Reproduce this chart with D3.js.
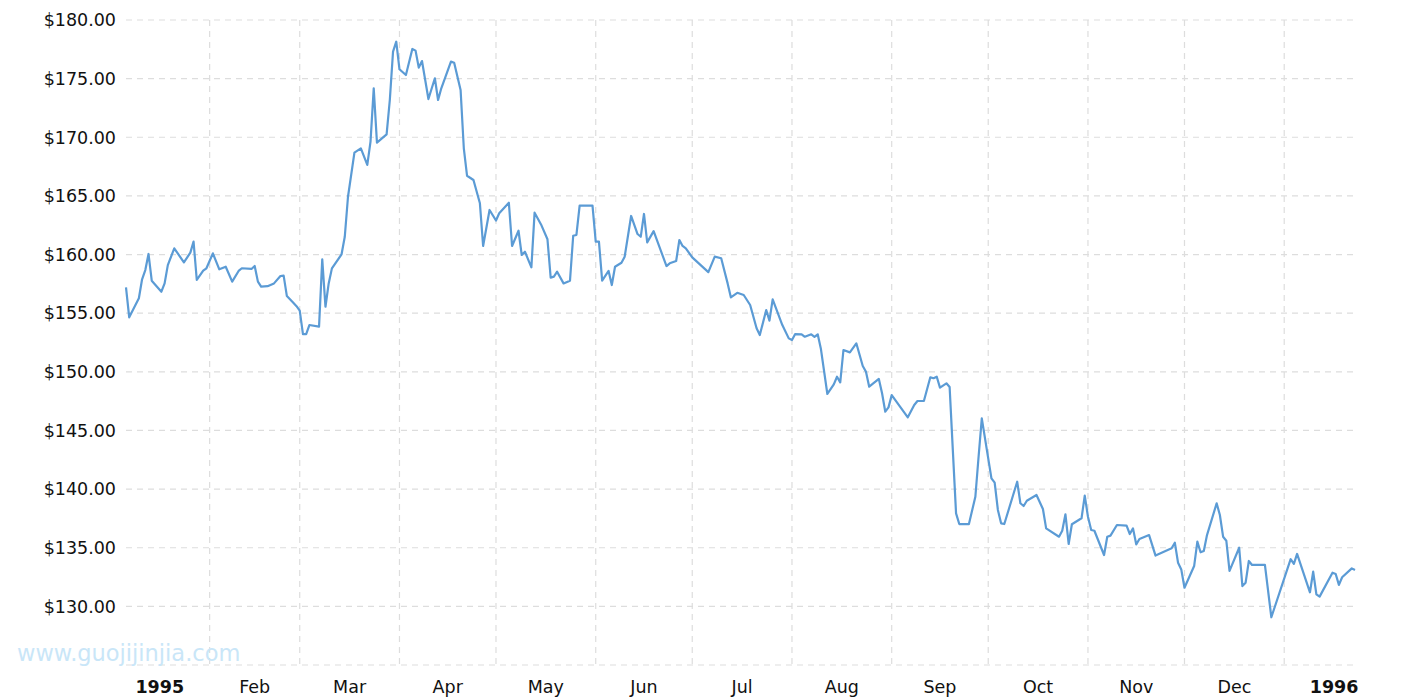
<!DOCTYPE html>
<html>
<head>
<meta charset="utf-8">
<script src="https://cdn.jsdelivr.net/npm/d3@7"></script>
<style>
  html, body { margin: 0; padding: 0; background: #fff; }
  svg { display: block; }
  text { font-family: "DejaVu Sans", Verdana, sans-serif; }
</style>
</head>
<body>
<svg id="chart" width="1415" height="700"></svg>
<script>
const dates = [
"1995-01-06","1995-01-07","1995-01-10","1995-01-11","1995-01-12","1995-01-13","1995-01-14","1995-01-17","1995-01-18","1995-01-19",
"1995-01-21","1995-01-24","1995-01-26","1995-01-27","1995-01-28","1995-01-30","1995-01-31","1995-02-02","1995-02-04","1995-02-06",
"1995-02-08","1995-02-10","1995-02-11","1995-02-14","1995-02-15","1995-02-16","1995-02-17","1995-02-19","1995-02-21","1995-02-23",
"1995-02-24","1995-02-25","1995-02-27","1995-02-28","1995-03-01","1995-03-02","1995-03-03","1995-03-04","1995-03-07","1995-03-08",
"1995-03-09","1995-03-10","1995-03-11","1995-03-14","1995-03-15","1995-03-16","1995-03-18","1995-03-20","1995-03-22","1995-03-23",
"1995-03-24","1995-03-25","1995-03-28","1995-03-29","1995-03-30","1995-03-31","1995-04-01","1995-04-03","1995-04-05","1995-04-06",
"1995-04-07","1995-04-08","1995-04-09","1995-04-10","1995-04-12","1995-04-13","1995-04-14","1995-04-17","1995-04-18","1995-04-20",
"1995-04-21","1995-04-22","1995-04-24","1995-04-26","1995-04-27","1995-04-29","1995-05-01","1995-05-02","1995-05-05","1995-05-06",
"1995-05-08","1995-05-09","1995-05-10","1995-05-12","1995-05-13","1995-05-15","1995-05-17","1995-05-18","1995-05-19","1995-05-20",
"1995-05-22","1995-05-24","1995-05-25","1995-05-26","1995-05-27","1995-05-31","1995-06-01","1995-06-02","1995-06-03","1995-06-05",
"1995-06-06","1995-06-07","1995-06-09","1995-06-10","1995-06-12","1995-06-14","1995-06-15","1995-06-16","1995-06-17","1995-06-19",
"1995-06-22","1995-06-23","1995-06-24","1995-06-26","1995-06-27","1995-06-28","1995-06-29","1995-07-01","1995-07-06","1995-07-08",
"1995-07-10","1995-07-12","1995-07-13","1995-07-15","1995-07-17","1995-07-19","1995-07-21","1995-07-22","1995-07-24","1995-07-25",
"1995-07-26","1995-07-29","1995-07-31","1995-08-01","1995-08-02","1995-08-04","1995-08-05","1995-08-07","1995-08-08","1995-08-09",
"1995-08-10","1995-08-12","1995-08-14","1995-08-15","1995-08-16","1995-08-17","1995-08-19","1995-08-21","1995-08-23","1995-08-24",
"1995-08-25","1995-08-28","1995-08-29","1995-08-30","1995-08-31","1995-09-01","1995-09-06","1995-09-08","1995-09-09","1995-09-11",
"1995-09-13","1995-09-14","1995-09-15","1995-09-16","1995-09-18","1995-09-19","1995-09-20","1995-09-21","1995-09-22","1995-09-25",
"1995-09-27","1995-09-28","1995-09-29","1995-10-02","1995-10-03","1995-10-04","1995-10-05","1995-10-06","1995-10-10","1995-10-11",
"1995-10-12","1995-10-13","1995-10-16","1995-10-18","1995-10-19","1995-10-23","1995-10-24","1995-10-25","1995-10-26","1995-10-27",
"1995-10-30","1995-10-31","1995-11-01","1995-11-02","1995-11-03","1995-11-06","1995-11-07","1995-11-08","1995-11-10","1995-11-13",
"1995-11-14","1995-11-15","1995-11-16","1995-11-17","1995-11-20","1995-11-22","1995-11-27","1995-11-28","1995-11-29","1995-11-30",
"1995-12-01","1995-12-04","1995-12-05","1995-12-06","1995-12-07","1995-12-08","1995-12-11","1995-12-12","1995-12-13","1995-12-14",
"1995-12-15","1995-12-18","1995-12-19","1995-12-20","1995-12-21","1995-12-22","1995-12-26","1995-12-28","1996-01-03","1996-01-04",
"1996-01-05","1996-01-09","1996-01-10","1996-01-11","1996-01-12","1996-01-16","1996-01-17","1996-01-18","1996-01-19","1996-01-22",
"1996-01-23"
];
const prices = [
157.2,154.65,156.27,157.89,158.68,160.05,157.77,156.83,157.54,159.1,
160.53,159.34,160.16,161.1,157.83,158.62,158.83,160.1,158.74,158.96,
157.69,158.6,158.83,158.77,159.02,157.69,157.26,157.3,157.54,158.17,
158.2,156.46,155.89,155.6,155.21,153.22,153.22,153.99,153.85,159.59,
155.55,157.54,158.82,160.02,161.52,164.93,168.69,169.06,167.64,169.63,
174.17,169.54,170.25,173.18,177.3,178.15,175.8,175.31,177.53,177.39,
175.94,176.5,174.88,173.26,175.03,173.18,174.18,176.45,176.36,174.03,
169.06,166.72,166.36,164.37,160.73,163.8,162.9,163.52,164.42,160.73,
162.03,159.96,160.24,158.91,163.57,162.57,161.3,158.03,158.12,158.54,
157.54,157.77,161.6,161.67,164.17,164.17,161.1,161.1,157.77,158.6,
157.4,158.96,159.3,159.82,163.29,161.75,161.52,163.46,161.04,162.0,
159.76,159.02,159.25,159.45,161.24,160.73,160.53,159.76,158.5,159.82,
159.68,157.54,156.35,156.74,156.55,155.7,153.71,153.14,155.27,154.36,
156.18,153.99,152.85,152.71,153.22,153.2,152.99,153.2,152.99,153.2,
151.94,148.11,148.93,149.58,149.1,151.86,151.66,152.43,150.5,150.01,
148.73,149.39,148.17,146.6,146.97,148.02,146.12,147.17,147.51,147.51,
149.53,149.45,149.58,148.65,149.02,148.7,143.3,137.93,137.02,137.02,
139.35,142.76,146.03,140.92,140.55,138.22,137.08,137.02,140.63,138.79,
138.56,139.01,139.5,138.3,136.65,135.94,136.45,137.85,135.32,137.0,
137.51,139.44,137.64,136.51,136.45,134.38,135.94,136.03,136.94,136.88,
136.17,136.65,135.29,135.74,136.08,134.33,134.95,135.43,133.72,133.15,
131.59,133.44,135.52,134.61,134.72,136.08,138.79,137.79,135.94,135.6,
133.02,135.0,131.73,132.02,133.87,133.53,133.53,129.07,134.02,133.62,
134.47,131.2,132.96,131.03,130.83,132.87,132.76,131.83,132.48,133.24,
133.1
];
const yTicks = [130,135,140,145,150,155,160,165,170,175,180];
const yDomain = [125, 180];
const monthNames = ["Jan","Feb","Mar","Apr","May","Jun","Jul","Aug","Sep","Oct","Nov","Dec"];

(function () {
  const parse = d3.timeParse("%Y-%m-%d");
  const data = dates.map((d, i) => ({ date: parse(d), value: prices[i] }));

  const svg = d3.select("#chart");
  const mLeft = 126, mRight = 1355, mTop = 20, mBottom = 665;

  const x = d3.scaleTime().domain(d3.extent(data, d => d.date)).range([mLeft, mRight]);
  const y = d3.scaleLinear().domain(yDomain).range([mBottom, mTop]);

  const gridColor = "#dddddd";
  const dash = "6,5";

  // horizontal grid
  const hLines = [yDomain[0]].concat(yTicks);
  svg.append("g").selectAll("line").data(hLines).join("line")
    .attr("x1", mLeft).attr("x2", mRight)
    .attr("y1", d => y(d)).attr("y2", d => y(d))
    .attr("stroke", gridColor).attr("stroke-width", 1.2).attr("stroke-dasharray", dash);

  // vertical grid at month starts
  const [d0, d1] = x.domain();
  const monthStarts = d3.timeMonth.range(d3.timeMonth.ceil(d0), d1);
  svg.append("g").selectAll("line").data(monthStarts).join("line")
    .attr("x1", d => x(d)).attr("x2", d => x(d))
    .attr("y1", mTop).attr("y2", mBottom)
    .attr("stroke", gridColor).attr("stroke-width", 1.2).attr("stroke-dasharray", dash);

  // y labels
  const fmt = d3.format("$,.2f");
  svg.append("g").selectAll("text").data(yTicks).join("text")
    .attr("x", 116).attr("y", d => y(d))
    .attr("dy", "0.36em")
    .attr("text-anchor", "end")
    .attr("font-size", "17.5px")
    .attr("fill", "#111")
    .text(d => fmt(d));

  // x labels at mid-month
  const labelMonths = d3.timeMonth.range(d3.timeMonth.floor(d0), d1);
  svg.append("g").selectAll("text").data(labelMonths).join("text")
    .attr("x", d => (x(d) + x(d3.timeMonth.offset(d, 1))) / 2)
    .attr("y", 693)
    .attr("text-anchor", "middle")
    .attr("font-size", "17.5px")
    .attr("font-weight", d => d.getMonth() === 0 ? "bold" : "normal")
    .attr("fill", "#111")
    .text(d => d.getMonth() === 0 ? d.getFullYear() : monthNames[d.getMonth()]);

  // watermark
  svg.append("text")
    .attr("x", 17).attr("y", 661)
    .attr("font-size", "22.5px")
    .attr("fill", "#c9e6f8")
    .text("www.guojijinjia.com");

  // line
  const line = d3.line().x(d => x(d.date)).y(d => y(d.value));
  svg.append("path").datum(data)
    .attr("d", line)
    .attr("fill", "none")
    .attr("stroke", "#5b9bd5")
    .attr("stroke-width", 2.2)
    .attr("stroke-linejoin", "round");
})();
</script>
</body>
</html>
